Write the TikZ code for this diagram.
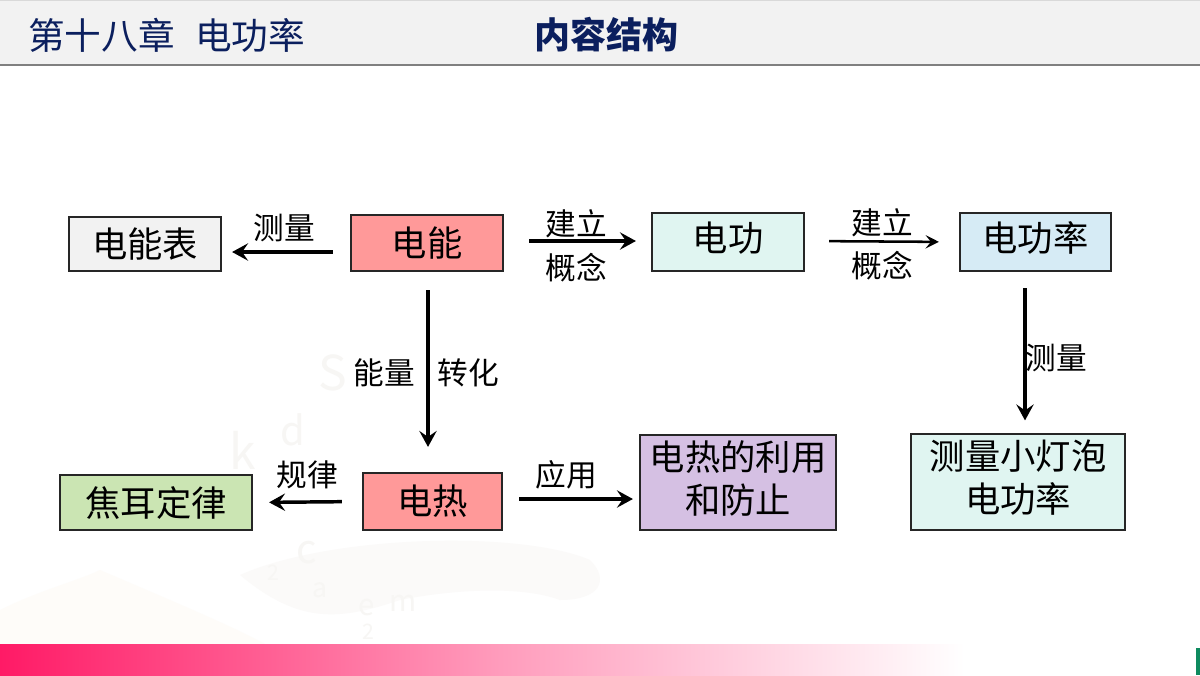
\documentclass[tikz,border=0pt]{standalone}
\usepackage{fontspec}
\setmainfont{Noto Sans CJK SC}
\usetikzlibrary{arrows.meta,calc,positioning}
\definecolor{navy}{HTML}{0B1F5E}
\definecolor{boxgray}{HTML}{F2F2F2}
\definecolor{boxred}{HTML}{FF9999}
\definecolor{boxmint}{HTML}{E0F5F1}
\definecolor{boxblue}{HTML}{D6EBF5}
\definecolor{boxgreen}{HTML}{CBE5B3}
\definecolor{boxpurple}{HTML}{D5C0E3}
\definecolor{barpink}{HTML}{FF1A66}
\definecolor{barmid}{HTML}{FF9CBC}
\definecolor{barend}{HTML}{0E8A5F}
\definecolor{wash}{HTML}{FBFAF9}
\definecolor{washb}{HTML}{FEFCF9}
\definecolor{wmark}{HTML}{F7F6F4}
\tikzset{
  x=0.75pt,y=-0.75pt,
  boxn/.style={draw=black!85,line width=1.6pt,inner sep=0pt},
  boxt/.style={inner sep=0pt,align=center,text=black,font=\fontsize{26.5}{32.3}\selectfont},
  lbl/.style={inner sep=0pt,font=\fontsize{23}{27}\selectfont},
  arr/.style={-{Stealth[length=12pt,width=13pt,inset=4.5pt]},line width=2.6pt,black},
  thinarr/.style={-{Stealth[length=10pt,width=10pt,inset=4pt]},line width=1.9pt,black},
  mk/.style={inner sep=0pt,text=wmark},
}
\newcommand{\boxat}[8]{% name, x0, y0, x1, y1, fill, text, text shift up in pt
  \node[boxn,fill=#6,minimum width={(#4-#2)*0.75pt},minimum height={(#5-#3)*0.75pt},anchor=center,
    label={[boxt,yshift=#8pt]center:#7}] (#1) at ({(#2+#4)/2},{(#3+#5)/2}) {};}
\begin{document}
\begin{tikzpicture}
\useasboundingbox (0,0) rectangle (1200,675);
\fill[white] (0,0) rectangle (1200,675);
% faint background
\fill[wash] (240,575) .. controls (330,535) and (520,530) .. (590,560) .. controls (610,580) and (600,600) .. (560,600) .. controls (520,585) and (450,590) .. (400,600) .. controls (340,620) and (300,625) .. (240,575) -- cycle;
\fill[washb] (100,570) .. controls (170,600) and (230,625) .. (265,644) -- (100,644) -- (0,644) -- (0,610) .. controls (40,590) and (80,580) .. (100,570) -- cycle;
\node[mk,font=\fontsize{30}{30}\selectfont] (wma) at (293,430) {d};
\node[mk,font=\fontsize{36}{36}\selectfont] (wmb) at (243,450) {k};
\node[mk,font=\fontsize{36}{36}\selectfont] (wms) at (333,373) {S};
\node[mk,font=\fontsize{30}{30}\selectfont] (wmc) at (307,553) {c};
\node[mk,font=\fontsize{20}{20}\selectfont] (wmu) at (320,590) {a};
\node[mk,font=\fontsize{16}{16}\selectfont] (wmg) at (273,573) {2};
\node[mk,font=\fontsize{22}{22}\selectfont] (wmd) at (367,608) {e};
\node[mk,font=\fontsize{22}{22}\selectfont] (wme) at (403,603) {m};
\node[mk,font=\fontsize{16}{16}\selectfont] (wmf) at (368,632) {2};
% header
\fill[boxgray] (0,1) rectangle (1200,64);
\draw[black!15,line width=0.8pt] (0,0.5) -- (1200,0.5);
\draw[black!50,line width=1pt] (0,65) -- (1200,65);
\node[anchor=west,inner sep=0pt,text=navy,font=\fontsize{27.5}{27.5}\selectfont] (title) at (28,35) {第十八章};
\node[anchor=west,inner sep=0pt,text=navy,font=\fontsize{27.5}{27.5}\selectfont] (titleb) at (195,35) {电功率};
\node[anchor=center,inner sep=0pt,text=navy,font=\fontsize{27}{27}\selectfont\bfseries] (head) at (606.5,35) {内容结构};
% bottom bar
\shade[left color=barpink,right color=barmid] (0,644) rectangle (500,675);
\shade[left color=barmid,right color=white] (500,644) rectangle (965,675);
\fill[barend] (1196,648) rectangle (1200,675);
% boxes
\boxat{meter}{69}{217}{221}{271}{boxgray}{电能表}{0}
\boxat{energy}{351}{215}{503}{271}{boxred}{电能}{0}
\boxat{work}{652}{213}{804}{271}{boxmint}{电功}{3}
\boxat{power}{960}{213}{1111}{271}{boxblue}{电功率}{3}
\boxat{joule}{60}{475}{252}{530}{boxgreen}{焦耳定律}{0}
\boxat{heat}{363}{473}{502}{530}{boxred}{电热}{0}
\boxat{use}{640}{435}{836}{530}{boxpurple}{电热的利用\\和防止}{3}
\boxat{bulb}{911}{434}{1125}{530}{boxmint}{测量小灯泡\\电功率}{3}
% connectors
\draw[arr,shorten <=12.75pt,shorten >=7.5pt] ([yshift=-6.75pt]energy.west) -- ([yshift=-6pt]meter.east);
\draw[arr,shorten <=18.75pt,shorten >=11.25pt] ([yshift=1.5pt]energy.east) -- ([yshift=0.75pt]work.west);
\draw[thinarr,shorten <=18pt,shorten >=15pt] ([yshift=0.75pt]work.east) -- (power.west);
\draw[arr,shorten <=13.5pt,shorten >=18.75pt] ([xshift=0.75pt]energy.south) -- ([xshift=-3.375pt]heat.north);
\draw[arr,shorten <=12pt,shorten >=9.375pt] ([xshift=-7.875pt]power.south) -- ([xshift=5.25pt]bulb.north);
\draw[arr,shorten <=15pt,shorten >=12pt] (heat.west) -- (joule.east);
\draw[arr,shorten <=12pt,shorten >=4.5pt] ([yshift=1.875pt]heat.east) -- ([yshift=-12.375pt]use.west);
% labels
\node[lbl] (l1) at (284,228) {测量};
\node[lbl] (l2) at (576,224) {建立};
\node[lbl] (l3) at (576,268) {概念};
\node[lbl] (l4) at (882,223) {建立};
\node[lbl] (l5) at (882,266) {概念};
\node[lbl] (l6) at (384,373) {能量};
\node[lbl] (l7) at (468,373) {转化};
\node[lbl] (l8) at (1056,358) {测量};
\node[lbl] (l9) at (307,475) {规律};
\node[lbl] (l10) at (566,475) {应用};
\end{tikzpicture}
\end{document}
